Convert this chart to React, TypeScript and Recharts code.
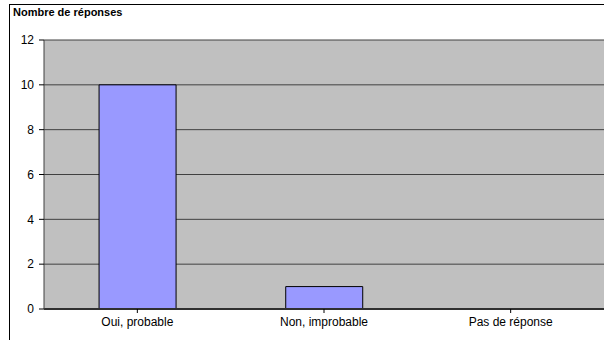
import { BarChart, Bar, XAxis, YAxis, CartesianGrid } from "recharts"

const categories = ["Oui, probable", "Non, improbable", "Pas de réponse"]
const responses = [10, 1, 0]
const yTicks = [0, 2, 4, 6, 8, 10, 12]

const data = categories.map((name, i) => ({ name, value: responses[i] }))

const font = "'Liberation Sans', Arial, sans-serif"

export default function App() {
  return (
    <div
      style={{
        position: "absolute",
        left: 0,
        top: 0,
        width: 604,
        height: 340,
        background: "#fff",
        overflow: "hidden",
        fontFamily: font,
      }}
    >
      <BarChart
        width={604}
        height={340}
        data={data}
        margin={{ top: 40, right: 0, left: 0, bottom: 1 }}
        barCategoryGap="29.5%"
      >
        <CartesianGrid vertical={false} fill="#C0C0C0" stroke="#404040" strokeOpacity={1} />
        <XAxis
          dataKey="name"
          height={30}
          tickSize={4}
          tickMargin={4}
          axisLine={{ stroke: "#303030", strokeWidth: 2 }}
          tickLine={{ stroke: "#000" }}
          tick={{ fill: "#000", fontSize: 12, fontFamily: font }}
          interval={0}
        />
        <YAxis
          width={44}
          domain={[0, 12]}
          ticks={yTicks}
          tickSize={5}
          tickMargin={5}
          axisLine={{ stroke: "#404040" }}
          tickLine={{ stroke: "#000" }}
          tick={{ fill: "#000", fontSize: 12, fontFamily: font }}
        />
        <Bar dataKey="value" fill="#9999FF" stroke="#000" strokeWidth={1} isAnimationActive={false} />
      </BarChart>
      <div
        style={{
          position: "absolute",
          left: 9,
          top: 4,
          width: 600,
          height: 340,
          borderLeft: "1px solid #000",
          borderTop: "1px solid #000",
          pointerEvents: "none",
        }}
      />
      <div
        style={{
          position: "absolute",
          left: 13,
          top: 6,
          fontSize: 11,
          fontWeight: "bold",
          color: "#000",
          lineHeight: "13px",
        }}
      >
        Nombre de réponses
      </div>
    </div>
  )
}
